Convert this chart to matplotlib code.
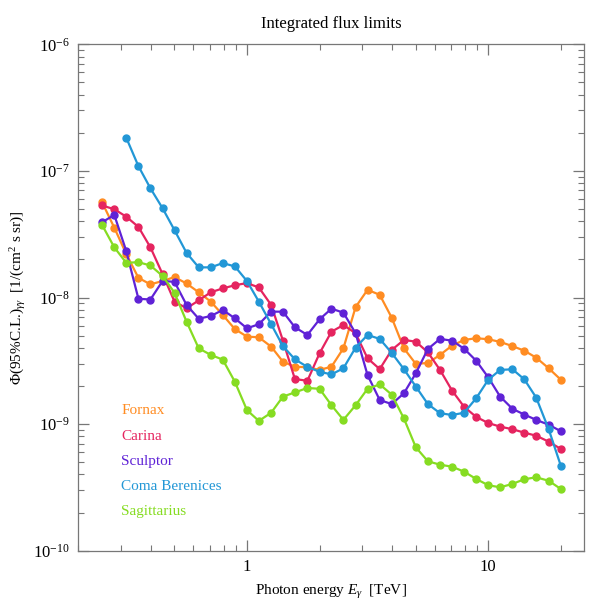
import numpy as np
import matplotlib
matplotlib.use("Agg")
import matplotlib.pyplot as plt
from matplotlib.ticker import LogLocator, NullFormatter

# photon energies of the bins (TeV)
energy = [0.251, 0.282, 0.316, 0.355, 0.398, 0.447, 0.501, 0.562, 0.631, 0.708,
          0.794, 0.891, 1.0, 1.12, 1.26, 1.41, 1.58, 1.78, 2.0, 2.24,
          2.51, 2.82, 3.16, 3.55, 3.98, 4.47, 5.01, 5.62, 6.31, 7.08,
          7.94, 8.91, 10.0, 11.2, 12.6, 14.1, 15.8, 17.8, 20.0]

fornax = [5.65e-8, 3.56e-8, 2.21e-8, 1.43e-8, 1.27e-8, 1.35e-8, 1.45e-8, 1.29e-8, 1.10e-8, 9.28e-9,
          7.28e-9, 5.63e-9, 4.91e-9, 4.85e-9, 4.09e-9, 3.11e-9, 2.84e-9, 2.81e-9, 2.68e-9, 2.84e-9,
          3.97e-9, 8.40e-9, 1.15e-8, 1.05e-8, 6.93e-9, 3.97e-9, 2.99e-9, 3.04e-9, 3.52e-9, 4.17e-9,
          4.62e-9, 4.77e-9, 4.68e-9, 4.46e-9, 4.13e-9, 3.80e-9, 3.35e-9, 2.76e-9, 2.24e-9]

carina = [5.33e-8, 4.98e-8, 4.35e-8, 3.61e-8, 2.49e-8, 1.53e-8, 9.28e-9, 8.22e-9, 9.48e-9, 1.10e-8,
          1.18e-8, 1.25e-8, 1.30e-8, 1.20e-8, 8.73e-9, 4.56e-9, 2.27e-9, 2.20e-9, 3.63e-9, 5.37e-9,
          6.06e-9, 5.22e-9, 3.31e-9, 2.72e-9, 3.85e-9, 4.62e-9, 4.48e-9, 3.69e-9, 2.68e-9, 1.84e-9,
          1.37e-9, 1.14e-9, 1.02e-9, 9.55e-10, 9.11e-10, 8.56e-10, 8.10e-10, 7.27e-10, 6.36e-10]

sculptor = [3.93e-8, 4.49e-8, 2.33e-8, 9.77e-9, 9.64e-9, 1.35e-8, 1.33e-8, 8.73e-9, 6.80e-9, 7.14e-9,
            7.97e-9, 6.85e-9, 5.71e-9, 6.15e-9, 7.73e-9, 7.73e-9, 5.82e-9, 5.06e-9, 6.73e-9, 8.16e-9,
            7.59e-9, 5.22e-9, 2.44e-9, 1.55e-9, 1.44e-9, 1.75e-9, 2.52e-9, 3.92e-9, 4.71e-9, 4.56e-9,
            3.94e-9, 3.17e-9, 2.34e-9, 1.65e-9, 1.32e-9, 1.19e-9, 1.08e-9, 9.89e-10, 8.78e-10]

# Coma Berenices starts at the third energy bin
coma = [1.83e-7, 1.09e-7, 7.29e-8, 5.07e-8, 3.40e-8, 2.25e-8, 1.73e-8, 1.73e-8,
        1.87e-8, 1.76e-8, 1.35e-8, 9.28e-9, 6.15e-9, 4.13e-9, 3.25e-9, 2.83e-9, 2.59e-9, 2.47e-9,
        2.76e-9, 4.02e-9, 5.06e-9, 4.71e-9, 3.65e-9, 2.72e-9, 1.98e-9, 1.44e-9, 1.22e-9, 1.18e-9,
        1.23e-9, 1.60e-9, 2.24e-9, 2.68e-9, 2.71e-9, 2.26e-9, 1.62e-9, 9.11e-10, 4.67e-10]

sagittarius = [3.74e-8, 2.49e-8, 1.88e-8, 1.90e-8, 1.79e-8, 1.48e-8, 1.09e-8, 6.44e-9, 3.97e-9, 3.52e-9,
               3.23e-9, 2.16e-9, 1.29e-9, 1.06e-9, 1.23e-9, 1.65e-9, 1.78e-9, 1.93e-9, 1.90e-9, 1.41e-9,
               1.08e-9, 1.41e-9, 1.90e-9, 2.06e-9, 1.71e-9, 1.11e-9, 6.56e-10, 5.09e-10, 4.78e-10, 4.61e-10,
               4.21e-10, 3.69e-10, 3.29e-10, 3.17e-10, 3.37e-10, 3.67e-10, 3.80e-10, 3.57e-10, 3.07e-10]

names = ["Fornax", "Carina", "Sculptor", "Coma Berenices", "Sagittarius"]
colors = ["#ff8c22", "#e5245f", "#5f22d6", "#2297d6", "#86dc22"]
xtick_vals = [1, 10]
xtick_labels = ["1", "10"]
ytick_vals = [1e-10, 1e-9, 1e-8, 1e-7, 1e-6]
ytick_labels = [r"$10^{-10}$", r"$10^{-9}$", r"$10^{-8}$", r"$10^{-7}$", r"$10^{-6}$"]

plt.rcParams["font.family"] = "Liberation Serif"
plt.rcParams["mathtext.fontset"] = "custom"
plt.rcParams["mathtext.rm"] = "Liberation Serif"
plt.rcParams["mathtext.it"] = "Liberation Serif:italic"
plt.rcParams["font.size"] = 11

fig = plt.figure(figsize=(5.9, 6.04), dpi=100)
ax = fig.add_axes([0.1327, 0.0882, 0.8576, 0.8385])

series = [(energy, fornax), (energy, carina), (energy, sculptor),
          (energy[2:], coma), (energy, sagittarius)]
for (x, y), c in zip(series, colors):
    ax.plot(x, y, color=c, lw=1.6, marker="o", ms=5, mec=c, mfc=c)

ax.set_xscale("log")
ax.set_yscale("log")
ax.set_xlim(0.2, 25)
ax.set_ylim(1e-10, 1e-6)

ax.set_yticks(ytick_vals)
ax.set_yticklabels(ytick_labels)
ax.yaxis.set_minor_locator(LogLocator(base=10, subs=np.arange(2, 10), numticks=10))
ax.yaxis.set_minor_formatter(NullFormatter())
ax.set_xticks(xtick_vals)
ax.set_xticklabels(xtick_labels)
ax.xaxis.set_minor_locator(LogLocator(base=10, subs=np.arange(2, 10), numticks=10))
ax.xaxis.set_minor_formatter(NullFormatter())

for s in ax.spines.values():
    s.set_color("#777777")
    s.set_linewidth(0.9)
ax.tick_params(which="both", direction="in", top=True, right=True, color="#777777")
ax.tick_params(which="major", length=8, width=0.9, labelsize=12, pad=6)
ax.tick_params(which="minor", length=4.5, width=0.8)

ax.set_title("Integrated flux limits", fontsize=12, pad=12)
ax.set_xlabel(r"Photon energy $E_\gamma$  [TeV]", fontsize=11, labelpad=6)
ax.set_ylabel(r"$\Phi$(95%C.L.)$_{\gamma\gamma}$  [1/(cm$^2$ s sr)]", fontsize=11, labelpad=4)

# coloured legend text inside the plot
for i, (n, c) in enumerate(zip(names, colors)):
    ax.text(0.085, 0.276 - i * 0.0495, n, color=c, fontsize=11, transform=ax.transAxes,
            va="center", ha="left")

fig.savefig("out.png", dpi=100)
